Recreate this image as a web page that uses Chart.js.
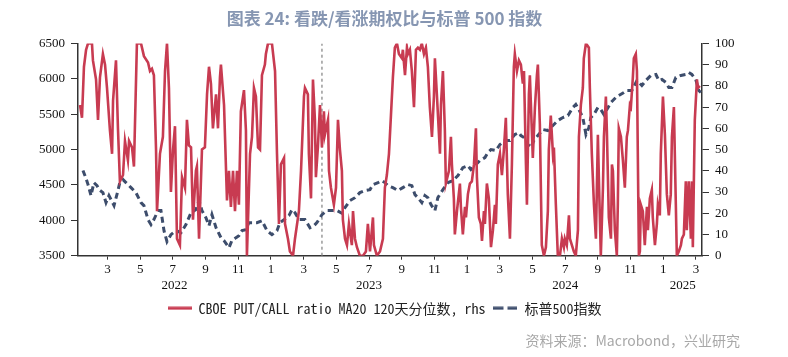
<!DOCTYPE html>
<html>
<head>
<meta charset="utf-8">
<script src="https://cdn.jsdelivr.net/npm/chart.js@4.4.1/dist/chart.umd.min.js"></script>
<style>
  html, body { margin: 0; padding: 0; background: #ffffff; }
  #wrap { width: 788px; height: 357px; position: relative; }
</style>
</head>
<body>
<div id="wrap"><canvas id="c" width="788" height="357"></canvas></div>
<script>
// ---- Data (x = months since 1 Jan 2022) ----
const titleText = '图表 24: 看跌/看涨期权比与标普 500 指数';
const sourceText = '资料来源：Macrobond，兴业研究';
const seriesNames = ['CBOE PUT/CALL ratio MA20 120天分位数, rhs', '标普500指数'];

const xMin = 0.196;
const xMax = 38.37;

const monthTickValues = [2,4,6,8,10,12,14,16,18,20,22,24,26,28,30,32,34,36,38];
const monthTickLabels = ['3','5','7','9','11','1','3','5','7','9','11','1','3','5','7','9','11','1','3'];
const yearLabels = ['2022','2023','2024','2025'];
const yearStarts = [0,12,24,36];

const leftTicks = [3500,4000,4500,5000,5500,6000,6500];
const rightTicks = [0,10,20,30,40,50,60,70,80,90,100];

// Vertical marker (early April 2023)
const markerT = [15.12, 15.12];
const markerV = [0, 100];

// CBOE put/call ratio MA20, 120-day percentile (rhs)
const pcT = [0.32,0.44,0.56,0.69,0.81,1.05,1.11,1.30,1.42,1.54,1.72,1.85,1.97,2.15,2.28,2.34,2.52,2.64,2.76,2.95,
3.07,3.25,3.32,3.50,3.62,3.80,4.05,4.23,4.48,4.60,4.72,4.84,4.97,5.03,5.21,5.39,5.52,5.64,5.76,5.88,
6.01,6.13,6.25,6.43,6.56,6.74,6.86,6.98,7.11,7.23,7.41,7.47,7.60,7.78,7.96,8.09,8.21,8.33,8.45,8.64,
8.76,8.88,8.94,9.13,9.31,9.43,9.55,9.68,9.80,9.92,10.04,10.16,10.35,10.47,10.53,10.72,10.84,10.96,11.08,11.21,
11.33,11.45,11.63,11.69,11.82,12.06,12.25,12.37,12.49,12.61,12.80,12.86,13.04,13.16,13.35,13.47,13.71,13.84,14.02,14.08,
14.26,14.32,14.45,14.57,14.69,14.75,14.87,15.00,15.12,15.24,15.30,15.49,15.55,15.67,15.85,15.98,16.10,16.22,16.34,16.40,
16.53,16.65,16.77,16.95,17.02,17.14,17.26,17.44,17.63,17.81,17.93,18.06,18.24,18.30,18.48,18.67,18.85,18.97,19.09,19.22,
19.34,19.46,19.58,19.71,19.83,20.01,20.07,20.20,20.32,20.38,20.50,20.62,20.75,20.87,20.99,21.11,21.23,21.36,21.48,21.60,
21.72,21.85,21.97,22.03,22.15,22.34,22.40,22.52,22.64,22.70,22.89,23.01,23.07,23.19,23.25,23.38,23.56,23.62,23.74,23.87,
23.93,24.05,24.17,24.29,24.42,24.54,24.60,24.72,24.84,24.91,25.03,25.09,25.21,25.33,25.46,25.58,25.70,25.76,25.88,26.01,
26.13,26.25,26.37,26.49,26.62,26.74,26.86,26.92,27.05,27.17,27.29,27.41,27.48,27.60,27.66,27.78,27.84,27.96,28.02,28.15,
28.27,28.33,28.45,28.57,28.70,28.82,28.94,29.00,29.12,29.25,29.31,29.43,29.55,29.68,29.80,29.92,29.98,30.10,30.23,30.29,
30.41,30.53,30.65,30.78,30.84,30.96,31.08,31.14,31.27,31.45,31.51,31.63,31.76,31.88,32.00,32.06,32.18,32.31,32.37,32.49,
32.55,32.67,32.80,32.86,32.92,33.04,33.16,33.22,33.28,33.41,33.53,33.65,33.77,33.84,33.96,34.02,34.14,34.20,34.32,34.39,
34.51,34.57,34.63,34.75,34.87,35.00,35.06,35.18,35.30,35.36,35.49,35.61,35.67,35.79,35.85,35.98,36.10,36.16,36.22,36.34,
36.46,36.53,36.65,36.77,36.83,36.95,37.08,37.14,37.26,37.38,37.44,37.56,37.69,37.75,37.81,37.93,38.06,38.12,38.24];
const pcV = [71,65,89,97,100,100,92,83,64,84,95,90,79,59,48,73,92,60,35,38,
54,45,54,51,42,100,100,94,91,87,88,85,50,21,48,56,87,100,79,30,
50,61,8,5,37,32,64,52,51,17,40,42,8,50,51,76,89,81,60,76,
60,84,90,71,26,40,23,40,21,40,24,68,78,59,0,48,56,79,75,51,
50,85,90,95,100,100,87,48,15,43,46,15,8,2,0,8,21,40,75,79,
76,48,27,83,64,37,51,71,51,68,57,64,40,32,24,32,64,50,40,17,
8,5,15,5,21,8,4,0,0,2,15,2,18,5,0,2,8,32,38,48,
66,84,98,100,95,93,97,85,98,95,97,87,70,97,98,97,100,95,98,89,
70,56,75,93,76,48,71,87,59,34,40,56,43,27,10,21,34,23,10,23,
18,29,34,35,43,60,37,18,15,7,21,15,34,27,4,12,24,15,43,48,
38,50,65,29,8,43,89,95,87,92,90,81,87,43,24,76,85,59,46,70,
85,90,62,5,0,4,21,50,66,48,51,24,0,0,8,4,8,5,19,8,
5,2,0,12,56,71,79,93,100,98,79,48,24,8,57,37,0,32,56,75,
59,18,8,43,40,12,0,24,60,56,45,32,56,59,71,70,84,93,95,87,
0,2,24,21,5,23,12,27,31,18,5,15,24,19,48,75,57,43,29,19,
29,56,70,24,0,2,5,8,10,35,12,35,8,35,4,64,83,79,80];

// S&P 500 index (lhs)
const spxT = [0.50,0.69,0.81,0.99,1.17,1.36,1.48,1.72,1.91,2.09,2.40,2.64,2.76,2.95,3.13,3.44,3.74,4.05,4.23,4.48,
4.66,4.84,5.09,5.27,5.46,5.64,5.88,6.19,6.50,6.80,7.11,7.41,7.60,7.78,8.02,8.21,8.39,8.64,8.94,9.13,
9.43,9.61,9.86,10.04,10.23,10.47,10.65,10.84,11.14,11.45,11.76,12.06,12.37,12.55,12.80,13.10,13.29,13.47,13.71,13.90,
14.08,14.39,14.63,14.81,15.12,15.43,15.73,16.04,16.34,16.53,16.83,17.14,17.44,17.75,18.06,18.24,18.55,18.79,18.97,19.16,
19.46,19.77,20.07,20.38,20.62,20.81,20.99,21.23,21.42,21.60,21.79,22.03,22.21,22.52,22.83,23.13,23.44,23.74,24.05,24.23,
24.48,24.78,25.09,25.27,25.46,25.76,26.01,26.31,26.62,26.92,27.17,27.29,27.48,27.72,27.90,28.08,28.33,28.64,28.94,29.25,
29.55,29.86,30.17,30.47,30.65,30.84,31.08,31.27,31.45,31.57,31.76,32.00,32.18,32.37,32.55,32.80,33.10,33.28,33.59,33.77,
34.08,34.39,34.69,34.94,35.24,35.55,35.73,35.92,36.16,36.34,36.53,36.77,37.08,37.38,37.56,37.75,37.99,38.17,38.30];
const spxV = [4705,4590,4505,4349,4533,4490,4434,4391,4250,4349,4208,4420,4540,4575,4533,4462,4391,4250,4208,4010,
3939,4010,4137,4137,3850,3700,3797,3854,3825,3939,4108,4151,4278,4137,4038,3924,4080,3896,3755,3712,
3613,3712,3755,3783,3854,3868,3967,3967,3967,3995,3854,3797,3854,3967,4010,4066,4151,4108,4010,4010,
4010,3896,3924,3967,4080,4137,4137,4137,4100,4180,4278,4320,4391,4420,4434,4505,4533,4561,4533,4490,
4462,4420,4462,4505,4490,4363,4320,4250,4349,4320,4222,4137,4320,4434,4533,4561,4632,4745,4773,4717,
4773,4844,4887,4957,5000,4986,5071,5127,5127,5212,5240,5198,5170,5071,5028,5127,5198,5283,5269,5340,
5410,5453,5481,5594,5637,5566,5453,5212,5311,5453,5495,5594,5566,5495,5566,5665,5736,5764,5806,5835,
5835,5976,5905,5976,6047,6061,5976,5990,5948,5877,5877,6018,6047,6061,6089,6061,5990,5835,5806];

// ---- Build ----
const zip = (t, v) => t.map((x, i) => ({x: x, y: v[i]}));
const yearCenters = yearStarts.map(s => (Math.max(s, xMin) + Math.min(s + 12, xMax)) / 2);

const RED = '#c83b51';
const NAVY = '#3d4d6c';
const AXIS = '#333333';
const TICKFONT = {family: '"Liberation Serif", "Times New Roman", serif', size: 13};
const TICKCOLOR = '#111111';

// legend swatches (small line samples)
function swatch(color, dash) {
  const c = document.createElement('canvas');
  c.width = 24; c.height = 4;
  const g = c.getContext('2d');
  g.strokeStyle = color; g.lineWidth = 3;
  g.setLineDash(dash);
  g.beginPath(); g.moveTo(0, 2); g.lineTo(24, 2); g.stroke();
  return c;
}
const redSwatch = swatch(RED, []);
const navySwatch = swatch(NAVY, [10, 4]);

new Chart(document.getElementById('c'), {
  type: 'line',
  data: {
    datasets: [
      {label: seriesNames[0], data: zip(pcT, pcV), yAxisID: 'y1', xAxisID: 'x',
       borderColor: RED, backgroundColor: RED, borderWidth: 2.6, pointRadius: 0, pointStyle: redSwatch, tension: 0},
      {label: seriesNames[1], data: zip(spxT, spxV), yAxisID: 'y', xAxisID: 'x',
       borderColor: NAVY, backgroundColor: NAVY, borderWidth: 3, borderDash: [6, 4], pointRadius: 0, pointStyle: navySwatch, tension: 0},
      {label: 'marker', data: zip(markerT, markerV), yAxisID: 'y1', xAxisID: 'x',
       borderColor: '#9a9a9a', borderWidth: 1.5, borderDash: [3, 3], pointRadius: 0}
    ]
  },
  options: {
    responsive: false,
    animation: false,
    devicePixelRatio: 1,
    layout: {padding: {left: 29, right: 48, top: 0, bottom: 0}},
    plugins: {
      title: {display: true, text: titleText, color: '#8696b2',
        font: {family: '"Noto Sans CJK SC", sans-serif', size: 17, weight: 'bold'},
        padding: {top: 8, bottom: 15}},
      subtitle: {display: true, text: sourceText, position: 'bottom', align: 'end', color: '#a8a8a8',
        font: {family: '"Noto Sans CJK SC", sans-serif', size: 14},
        padding: {top: 7, bottom: 8}},
      legend: {display: true, position: 'bottom',
        labels: {usePointStyle: true, pointStyleWidth: 24, boxHeight: 13,
          color: '#222222', padding: 8,
          font: {family: '"Noto Sans Mono CJK SC", "Liberation Mono", "Noto Sans CJK SC", monospace', size: 14},
          filter: item => item.datasetIndex < 2}},
      tooltip: {enabled: false}
    },
    scales: {
      x: {type: 'linear', position: 'bottom', min: xMin, max: xMax, weight: 0,
        afterBuildTicks: s => { s.ticks = monthTickValues.map(v => ({value: v})); },
        ticks: {autoSkip: false, maxRotation: 0, padding: 2, font: TICKFONT, color: TICKCOLOR,
          callback: (v, i) => monthTickLabels[i]},
        grid: {drawOnChartArea: false, drawTicks: true, tickLength: 4, color: AXIS},
        border: {display: true, color: AXIS, width: 1.5},
        afterFit: s => { s.height = 20; }},
      x2: {type: 'linear', position: 'bottom', min: xMin, max: xMax, weight: 1,
        afterBuildTicks: s => { s.ticks = yearCenters.map(v => ({value: v})); },
        ticks: {autoSkip: false, maxRotation: 0, padding: 2, font: TICKFONT, color: TICKCOLOR,
          callback: (v, i) => yearLabels[i]},
        grid: {display: false, drawTicks: false},
        border: {display: false},
        afterFit: s => { s.height = 17.5; }},
      y: {position: 'left', min: 3500, max: 6500,
        afterBuildTicks: s => { s.ticks = leftTicks.map(v => ({value: v})); },
        ticks: {padding: 6, font: TICKFONT, color: TICKCOLOR, autoSkip: false, callback: v => String(v)},
        grid: {drawOnChartArea: false, drawTicks: true, tickLength: 7, color: AXIS},
        border: {display: true, color: AXIS, width: 1.5},
        afterFit: s => { s.width = 49; }},
      y1: {position: 'right', min: 0, max: 100,
        afterBuildTicks: s => { s.ticks = rightTicks.map(v => ({value: v})); },
        ticks: {padding: 6, font: TICKFONT, color: TICKCOLOR, autoSkip: false, callback: v => String(v)},
        grid: {drawOnChartArea: false, drawTicks: true, tickLength: 7, color: AXIS},
        border: {display: true, color: AXIS, width: 1.5},
        afterFit: s => { s.width = 38; }}
    }
  }
});
</script>
</body>
</html>
